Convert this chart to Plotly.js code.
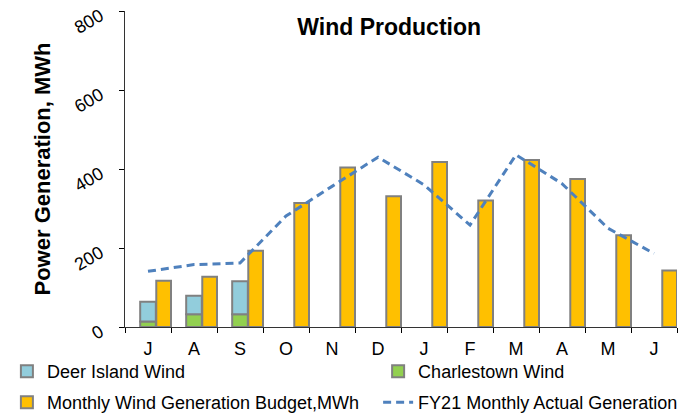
<!DOCTYPE html>
<html>
<head>
<meta charset="utf-8">
<script src="https://cdn.plot.ly/plotly-3.0.1.min.js"></script>
<style>html,body{margin:0;padding:0;background:#fff}#chart{width:690px;height:420px}</style>
</head>
<body>
<div id="chart"></div>
<script>
const monthKeys = ['Jul','Aug','Sep','Oct','Nov','Dec','Jan','Feb','Mar','Apr','May','Jun'];
const monthLabels = ['J','A','S','O','N','D','J','F','M','A','M','J'];
const deerIsland = [50, 47, 84];
const charlestown = [14, 32, 32];
const budget = [117, 127, 193, 314, 404, 331, 418, 320, 423, 375, 232, 143];
const actual = [141, 158, 162, 281, 356, 430, 360, 258, 436, 363, 250, 186];

const FONT = 'Arial, "Liberation Sans", sans-serif';
const outline = {color: 'rgb(128,128,128)', width: 2};

const traces = [
  {type: 'bar', name: 'Charlestown Wind', x: monthKeys.slice(0, charlestown.length), y: charlestown,
   offset: -0.17, width: 0.34, marker: {color: '#92D050', line: outline}, legend: 'legend2'},
  {type: 'bar', name: 'Deer Island Wind', x: monthKeys.slice(0, deerIsland.length), y: deerIsland,
   base: charlestown, offset: -0.17, width: 0.34, marker: {color: '#92CDDC', line: outline}, legend: 'legend'},
  {type: 'bar', name: 'Monthly Wind Generation Budget,MWh', x: monthKeys, y: budget,
   offset: 0.18, width: 0.32, marker: {color: '#FFC000', line: outline}, legend: 'legend3'},
  {type: 'scatter', mode: 'lines', name: 'FY21 Monthly Actual Generation', x: monthKeys, y: actual,
   line: {color: '#4F81BD', width: 3, dash: '8px,5px'}, legend: 'legend4'}
];

function leg(x, y) {
  return {orientation: 'h', x: x, xref: 'container', xanchor: 'left', y: y, yref: 'container', yanchor: 'top',
    font: {size: 18, family: FONT}, bgcolor: 'rgba(0,0,0,0)'};
}

const layout = {
  width: 690, height: 420,
  margin: {l: 125, r: 13, t: 11, b: 92.5},
  paper_bgcolor: '#fff', plot_bgcolor: '#fff',
  font: {family: FONT, color: '#000', size: 18},
  barmode: 'overlay',
  showlegend: true,
  title: {text: '<b>Wind Production</b>', font: {family: FONT, size: 23, color: '#000'},
          x: 0.564, xref: 'container', xanchor: 'center', y: 0.936, yref: 'container', yanchor: 'middle'},
  xaxis: {type: 'category', categoryorder: 'array', categoryarray: monthKeys,
          tickmode: 'array', tickvals: monthKeys, ticktext: monthLabels,
          tickson: 'boundaries', ticks: 'outside', ticklen: 5, tickcolor: '#000', tickwidth: 1,
          ticklabelstandoff: 5,
          showline: true, linecolor: '#333', linewidth: 1, showgrid: false, zeroline: false,
          range: [-0.5, 11.5], tickfont: {size: 18, family: FONT}},
  yaxis: {range: [0, 800], tickvals: [0, 200, 400, 600, 800], ticks: 'outside', ticklen: 5,
          tickcolor: '#000', showline: true, linecolor: '#333', linewidth: 1, showgrid: false,
          zeroline: false, tickangle: -30, tickfont: {size: 18, family: FONT},
          ticklabelstandoff: 15, ticklabelshift: 3, ticklabeloverflow: 'allow',
          title: {text: '<b>Power Generation, MWh</b>', font: {size: 22, family: FONT}, standoff: 14}},
  legend: leg(0.01, 0.1595),
  legend2: leg(0.548, 0.1595),
  legend3: leg(0.01, 0.0857),
  legend4: leg(0.548, 0.0857)
};

Plotly.newPlot('chart', traces, layout, {displayModeBar: false, staticPlot: true});
</script>
</body>
</html>
